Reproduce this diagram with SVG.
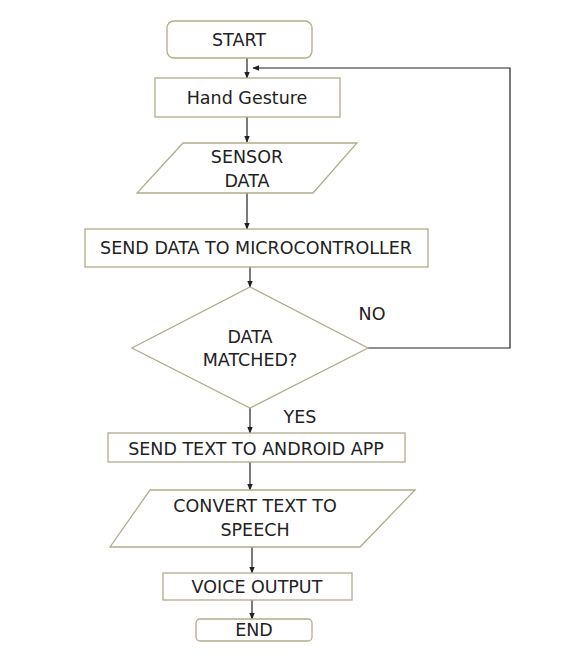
<svg xmlns="http://www.w3.org/2000/svg" width="587" height="667" viewBox="0 0 587 667">
<style>
.shape{fill:#fff;stroke:#b3ab8e;stroke-width:1.3}
.t{font-family:"DejaVu Sans","Noto Sans",sans-serif;font-size:17.5px;fill:#222;text-anchor:middle}
.c{fill:none;stroke:#222;stroke-width:1.2}
</style>
<defs>
<marker id="ah" viewBox="0 0 10 10" refX="9" refY="5" markerWidth="7" markerHeight="7" orient="auto" markerUnits="userSpaceOnUse">
<path d="M0,1 L10,5 L0,9 z" fill="#222"/>
</marker>
</defs>
<rect width="587" height="667" fill="#fff"/>
<g id="connectors">
<line class="c" x1="247" y1="58" x2="247" y2="78" marker-end="url(#ah)"/>
<line class="c" x1="247" y1="117" x2="247" y2="142" marker-end="url(#ah)"/>
<line class="c" x1="247" y1="193" x2="247" y2="229" marker-end="url(#ah)"/>
<line class="c" x1="250" y1="267" x2="250" y2="287" marker-end="url(#ah)"/>
<polyline class="c" points="368,348 510,348 510,68 253,68" marker-end="url(#ah)"/>
<line class="c" x1="250" y1="408" x2="250" y2="433" marker-end="url(#ah)"/>
<line class="c" x1="250" y1="462" x2="250" y2="490" marker-end="url(#ah)"/>
<line class="c" x1="252" y1="547" x2="252" y2="573" marker-end="url(#ah)"/>
<line class="c" x1="252" y1="588" x2="252" y2="619" marker-end="url(#ah)"/>
</g>
<g id="start">
<rect class="shape" x="167" y="21" width="145" height="37" rx="7"/>
<text class="t" x="239" y="46">START</text>
</g>
<g id="hand-gesture">
<rect class="shape" x="155" y="78" width="185" height="39"/>
<text class="t" x="247" y="104">Hand Gesture</text>
</g>
<g id="sensor-data">
<polygon class="shape" points="183,143 357,143 313,193 137,193"/>
<text class="t" x="247" y="163">SENSOR</text>
<text class="t" x="247" y="187">DATA</text>
</g>
<g id="send-data">
<rect class="shape" x="85" y="229" width="343" height="38"/>
<text class="t" x="256" y="254">SEND DATA TO MICROCONTROLLER</text>
</g>
<g id="data-matched">
<polygon class="shape" points="250,287 368,348 250,408 132,348"/>
<text class="t" x="250" y="343">DATA</text>
<text class="t" x="250" y="366">MATCHED?</text>
</g>
<g id="no-label"><text class="t" x="372" y="320">NO</text></g>
<g id="yes-label"><text class="t" x="300" y="423">YES</text></g>
<g id="send-text">
<rect class="shape" x="108" y="433" width="297" height="29"/>
<text class="t" x="256" y="455">SEND TEXT TO ANDROID APP</text>
</g>
<g id="convert">
<polygon class="shape" points="150,490 415,490 360,547 110,547"/>
<text class="t" x="255" y="512">CONVERT TEXT TO</text>
<text class="t" x="255" y="536">SPEECH</text>
</g>
<g id="voice-output">
<rect class="shape" x="163" y="573" width="189" height="27"/>
<text class="t" x="257" y="593">VOICE OUTPUT</text>
</g>
<g id="end">
<rect class="shape" x="196" y="619" width="116" height="22" rx="4"/>
<text class="t" x="254" y="636">END</text>
</g>
</svg>
